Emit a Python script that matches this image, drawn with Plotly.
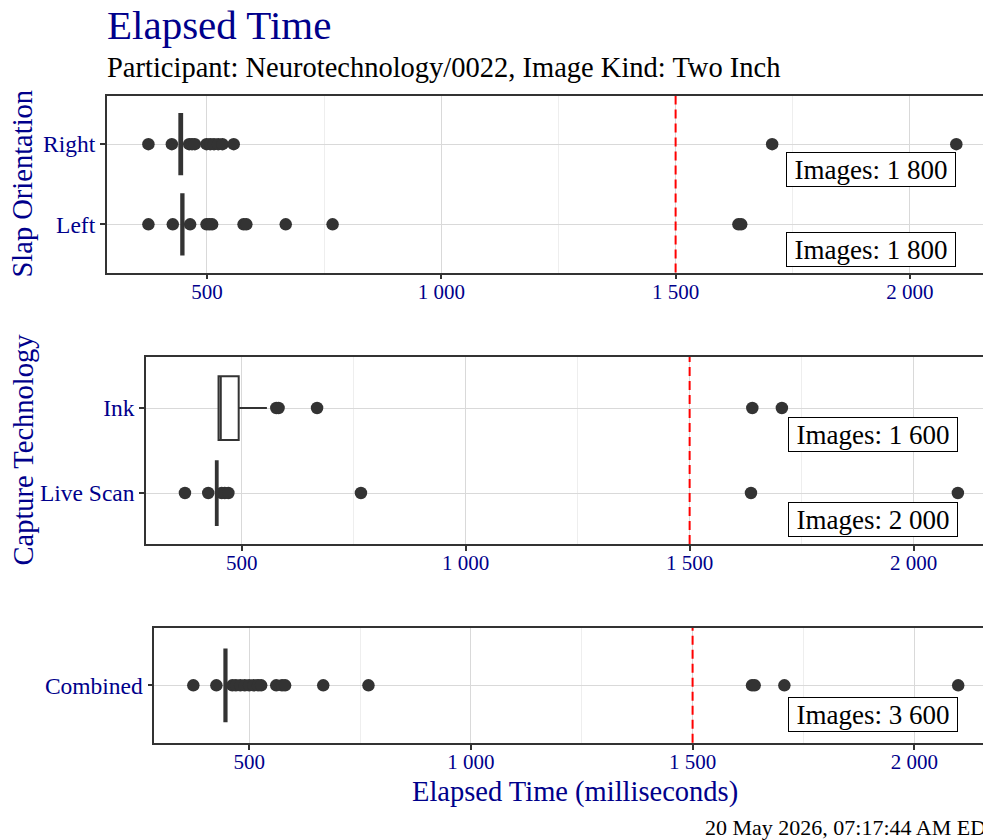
import plotly.graph_objects as go

# ---------------- data ----------------
x_tickvals = [500, 1000, 1500, 2000]
x_ticktext = ["500", "1 000", "1 500", "2 000"]
x_minor = [750, 1250, 1750]
threshold = 1500

# Panel 1: Slap Orientation
slap_cats = ["Left", "Right"]
slap_q1 = [445, 441]
slap_median = [448, 444]
slap_q3 = [450, 447]
slap_lower = [445, 441]
slap_upper = [450, 447]
slap_counts = ["1 800", "1 800"]
right_outliers = [375, 425, 462, 468, 474, 499, 507, 515, 524, 533, 557, 1706, 2099]
left_outliers = [375, 427, 464, 499, 505, 511, 578, 584, 668, 768, 1634, 1640]

# Panel 2: Capture Technology
cap_cats = ["Live Scan", "Ink"]
cap_q1 = [442, 448]
cap_median = [444, 453]
cap_q3 = [446, 493]
cap_lower = [442, 448]
cap_upper = [446, 556]
cap_counts = ["2 000", "1 600"]
livescan_outliers = [373, 425, 455, 462, 470, 766, 1637, 2099]
ink_outliers = [577, 582, 668, 1640, 1706]

# Panel 3: Combined
comb_cats = ["Combined"]
comb_q1 = [444]
comb_median = [447]
comb_q3 = [449]
comb_lower = [444]
comb_upper = [449]
comb_counts = ["3 600"]
combined_outliers = [374, 426, 462, 470, 480, 490, 500, 510, 520, 527, 561, 574, 581,
                     667, 769, 1634, 1640, 1707, 2099]

# ---------------- style ----------------
FONT = "Liberation Serif"
BLUE = "#00008B"
DARK = "#333333"
OFF = 8                      # page body margin
W, H = 991 - OFF, 840 - OFF  # figure size inside the page
XRANGE = [286, 2173]


def px(sx):
    return (sx - OFF) / W


def py(sy):
    return 1 - (sy - OFF) / H


fig = go.Figure()

panels = [
    dict(ax="", cats=slap_cats, q1=slap_q1, med=slap_median, q3=slap_q3, lo=slap_lower,
         up=slap_upper, counts=slap_counts, outl=[left_outliers, right_outliers],
         xdom=[px(106.7), 1], ydom=[py(272.5), py(96)], yshift=-8),
    dict(ax="2", cats=cap_cats, q1=cap_q1, med=cap_median, q3=cap_q3, lo=cap_lower,
         up=cap_upper, counts=cap_counts, outl=[livescan_outliers, ink_outliers],
         xdom=[px(146), 1], ydom=[py(544), py(357)], yshift=-9),
    dict(ax="3", cats=comb_cats, q1=comb_q1, med=comb_median, q3=comb_q3, lo=comb_lower,
         up=comb_upper, counts=comb_counts, outl=[combined_outliers],
         xdom=[px(154.3), 1], ydom=[py(742.7), py(628)], yshift=-12),
]

annotations = []
shapes = []
for p in panels:
    xa = "x" + p["ax"]
    ya = "y" + p["ax"]
    panel_max = max(max(v) for v in p["outl"] + [p["up"]])
    for i, cat in enumerate(p["cats"]):
        fig.add_trace(go.Box(
            y=[cat], q1=[p["q1"][i]], median=[p["med"][i]], q3=[p["q3"][i]],
            lowerfence=[p["lo"][i]], upperfence=[p["up"][i]],
            orientation="h", xaxis=xa, yaxis=ya, width=0.75, whiskerwidth=0,
            fillcolor="white", line=dict(color=DARK, width=2),
            boxpoints=False, hoverinfo="skip", showlegend=False))
        vals = p["outl"][i]
        fig.add_trace(go.Scatter(
            x=vals, y=[cat] * len(vals), mode="markers", xaxis=xa, yaxis=ya,
            marker=dict(color=DARK, size=12.5, line=dict(width=0)),
            hoverinfo="skip", showlegend=False))
        annotations.append(dict(
            x=panel_max, y=cat, xref=xa, yref=ya, xanchor="right", yanchor="top",
            yshift=p["yshift"], text="Images: " + p["counts"][i], showarrow=False,
            font=dict(family=FONT, size=27, color="black"),
            bgcolor="white", bordercolor="black", borderwidth=1, borderpad=1,
            width=166, height=31))
    shapes.append(dict(type="line", xref=xa, yref=ya + " domain", x0=threshold, x1=threshold,
                       y0=0, y1=1, line=dict(color="red", width=2, dash="9px,5px"),
                       layer="above"))
    nc = len(p["cats"])
    fig.layout["xaxis" + p["ax"]] = dict(
        domain=p["xdom"], anchor=ya, range=XRANGE, tickvals=x_tickvals, ticktext=x_ticktext,
        showgrid=True, gridcolor="#D9D9D9", gridwidth=1.3,
        minor=dict(tickvals=x_minor, showgrid=True, gridcolor="#EEEEEE", gridwidth=0.8, ticks=""),
        showline=True, mirror=True, linecolor=DARK, linewidth=1.6,
        ticks="outside", ticklen=5, tickwidth=1.5, tickcolor=DARK, ticklabelstandoff=-6,
        tickfont=dict(family=FONT, size=21, color=BLUE), zeroline=False, fixedrange=True,
        automargin=False)
    fig.layout["yaxis" + p["ax"]] = dict(
        domain=p["ydom"], anchor=xa, type="category", categoryorder="array",
        categoryarray=p["cats"], range=[-0.6, nc - 1 + 0.6],
        showgrid=True, gridcolor="#D9D9D9", gridwidth=1.3,
        showline=True, mirror=True, linecolor=DARK, linewidth=1.6,
        ticks="outside", ticklen=5, tickwidth=1.5, tickcolor=DARK,
        tickfont=dict(family=FONT, size=23.5, color=BLUE), zeroline=False, fixedrange=True,
        automargin=False)

# titles and labels
annotations += [
    dict(text="Elapsed Time", x=px(105), y=py(25), xref="paper", yref="paper",
         xanchor="left", yanchor="middle", showarrow=False,
         font=dict(family=FONT, size=41, color=BLUE)),
    dict(text="Participant: Neurotechnology/0022, Image Kind: Two Inch", x=px(105), y=py(68),
         xref="paper", yref="paper", xanchor="left", yanchor="middle", showarrow=False,
         font=dict(family=FONT, size=28.5, color="black")),
    dict(text="Slap Orientation", x=px(21.5), y=py(184), xref="paper", yref="paper",
         xanchor="center", yanchor="middle", textangle=-90, showarrow=False,
         font=dict(family=FONT, size=28.5, color=BLUE)),
    dict(text="Capture Technology", x=px(22.5), y=py(450), xref="paper", yref="paper",
         xanchor="center", yanchor="middle", textangle=-90, showarrow=False,
         font=dict(family=FONT, size=28.5, color=BLUE)),
    dict(text="Elapsed Time (milliseconds)", x=px(575), y=py(792), xref="paper", yref="paper",
         xanchor="center", yanchor="middle", showarrow=False,
         font=dict(family=FONT, size=28.5, color=BLUE)),
    dict(text="20 May 2026, 07:17:44 AM EDT", x=px(703), y=py(827), xref="paper", yref="paper",
         xanchor="left", yanchor="middle", showarrow=False,
         font=dict(family=FONT, size=22, color="black")),
]

fig.update_layout(
    width=W, height=H, margin=dict(l=0, r=0, t=0, b=0, autoexpand=False),
    paper_bgcolor="white", plot_bgcolor="white",
    boxmode="overlay", showlegend=False,
    annotations=annotations, shapes=shapes,
    font=dict(family=FONT),
)

fig.write_html("out.html")
